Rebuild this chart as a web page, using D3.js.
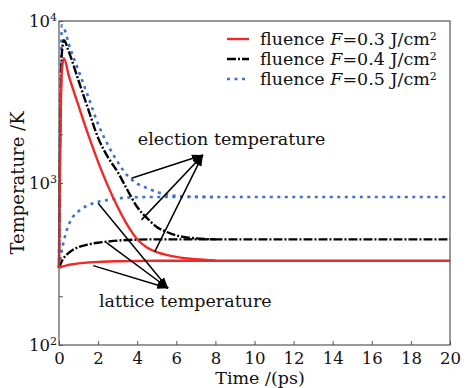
<!DOCTYPE html>
<html>
<head>
<meta charset="utf-8">
<script src="https://cdn.jsdelivr.net/npm/d3@7"></script>
<style>
  body { margin: 0; background: #fff; }
  text { font-family: "DejaVu Serif", serif; fill: #111; }
</style>
</head>
<body>
<svg id="chart" width="469" height="388"></svg>
<script>
// time grid (ps) for electron curves
var tElec = [0, 0.05, 0.1, 0.15, 0.25, 0.5, 1, 1.5, 2, 2.5, 3, 3.5, 4, 4.5, 5, 5.5, 6, 7, 8];
var elec03 = [300, 1300, 3200, 5000, 5900, 4600, 3000, 1980, 1350, 960, 711, 550, 450, 400, 375, 360, 350, 338, 332];
var elec04 = [300, 1600, 4000, 6400, 7600, 6470, 4280, 2840, 1900, 1445, 1170, 905, 711, 608, 535, 499, 475, 455, 449];
var elec05 = [300, 2200, 5500, 9400, 9100, 7210, 4940, 3390, 2310, 1720, 1350, 1110, 990, 930, 880, 851, 832, 822, 820];

// time grid (ps) for lattice curves
var tLatt = [0, 0.1, 0.2, 0.4, 0.7, 1, 1.5, 2, 2.5, 3, 4, 5, 8, 20];
var latt03 = [300, 303, 306, 310, 315, 319, 323, 326, 328, 329, 330, 331, 331, 331];
var latt04 = [300, 320, 338, 362, 386, 402, 418, 428, 435, 441, 447, 449, 449, 449];
var latt05 = [300, 360, 415, 513, 615, 670, 731, 765, 786, 803, 817, 820, 820, 820];

var xTicks = [0, 2, 4, 6, 8, 10, 12, 14, 16, 18, 20];
var yDecades = [100, 1000, 10000];
var yTicks = [100, 200, 1000, 2000, 10000];

var legendLabels = ["0.3", "0.4", "0.5"];

// arrows: [from t, from T, to t, to T]
var elecArrows = [[3.71, 1070, 7.36, 1490], [4.22, 592, 7.36, 1490], [4.9, 377, 7.36, 1490]];
var lattArrows = [[2.0, 750, 5.58, 224], [2.43, 428, 5.58, 224], [1.75, 309, 5.58, 224]];

var W = 469, H = 388;
var margin = {left: 59, top: 21, right: 19, bottom: 43};
var iw = W - margin.left - margin.right, ih = H - margin.top - margin.bottom;

var svg = d3.select("#chart");
var g = svg.append("g").attr("transform", "translate(" + margin.left + "," + margin.top + ")");

var x = d3.scaleLinear().domain([0, 20]).range([0, iw]);
var y = d3.scaleLog().domain([100, 10000]).range([ih, 0]);

var styles = [
  {color: "#f02828", dash: null, w: 2.4},
  {color: "#000000", dash: "9,2,2,2", w: 2.4},
  {color: "#3f6fcf", dash: "3,4.5", w: 2.6}
];

var line = d3.line().x(function(d) { return x(d[0]); }).y(function(d) { return y(d[1]); }).curve(d3.curveMonotoneX);

var elecSeries = [elec03, elec04, elec05];
var lattSeries = [latt03, latt04, latt05];

svg.append("defs").append("marker")
  .attr("id", "arrow").attr("viewBox", "0 0 10 10").attr("refX", 10).attr("refY", 5)
  .attr("markerWidth", 11).attr("markerHeight", 11).attr("markerUnits", "userSpaceOnUse")
  .attr("orient", "auto")
  .append("path").attr("d", "M0,1.5 L10,5 L0,8.5 Z").attr("fill", "#000");

[2, 1, 0].forEach(function(i) {
  var s = styles[i];
  g.append("path").datum(tLatt.map(function(t, k) { return [t, lattSeries[i][k]]; }))
    .attr("d", line).attr("fill", "none").attr("stroke", s.color).attr("stroke-width", s.w)
    .attr("stroke-dasharray", s.dash);
  g.append("path").datum(tElec.map(function(t, k) { return [t, elecSeries[i][k]]; }))
    .attr("d", line).attr("fill", "none").attr("stroke", s.color).attr("stroke-width", s.w)
    .attr("stroke-dasharray", s.dash);
});

// annotation arrows
elecArrows.concat(lattArrows).forEach(function(a) {
  g.append("line").attr("x1", x(a[0])).attr("y1", y(a[1])).attr("x2", x(a[2])).attr("y2", y(a[3]))
    .attr("stroke", "#000").attr("stroke-width", 1.5).attr("marker-end", "url(#arrow)");
});
g.append("text").attr("x", x(4.03)).attr("y", y(1718)).text("election temperature").style("font-size", "17.5px");
g.append("text").attr("x", x(2.04)).attr("y", y(172)).text("lattice temperature").style("font-size", "17.5px");

// frame
g.append("rect").attr("width", iw).attr("height", ih).attr("fill", "none").attr("stroke", "#555").attr("stroke-width", 1.2);

// x axis
var xAxis = g.append("g").attr("transform", "translate(0," + ih + ")")
  .call(d3.axisBottom(x).tickValues(xTicks).tickSize(-4).tickPadding(7).tickFormat(d3.format("d")));
xAxis.select(".domain").remove();
xAxis.selectAll(".tick line").attr("stroke", "#555");
xAxis.selectAll("text").style("font-size", "16.5px").style("font-family", "DejaVu Serif");

// y axis
var yAxis = g.append("g").call(d3.axisLeft(y).tickValues(yTicks).tickSize(-4).tickFormat(""));
yAxis.select(".domain").remove();
yAxis.selectAll(".tick line").attr("stroke", "#555");

yDecades.forEach(function(v) {
  var t = g.append("text").attr("x", -2).attr("y", y(v)).attr("dy", "0.36em")
    .attr("text-anchor", "end").style("font-size", "16.5px");
  t.append("tspan").text("10");
  t.append("tspan").attr("dy", "-0.5em").style("font-size", "11px").text(Math.log10(v));
});

// axis titles
svg.append("text").attr("transform", "translate(24," + (margin.top + ih / 2) + ") rotate(-90)")
  .attr("text-anchor", "middle").style("font-size", "18px").text("Temperature /K");
svg.append("text").attr("x", 260).attr("y", 384)
  .attr("text-anchor", "middle").style("font-size", "17.5px").text("Time /(ps)");

// legend
var leg = g.append("g").attr("transform", "translate(168,18)");
legendLabels.forEach(function(lbl, i) {
  var s = styles[i];
  var ly = i * 20;
  leg.append("line").attr("x1", 0).attr("x2", 22).attr("y1", ly).attr("y2", ly)
    .attr("stroke", s.color).attr("stroke-width", s.w).attr("stroke-dasharray", s.dash);
  var t = leg.append("text").attr("x", 33).attr("y", ly).attr("dy", "0.33em").style("font-size", "17.5px");
  t.append("tspan").text("fluence ");
  t.append("tspan").style("font-style", "italic").text("F");
  t.append("tspan").text("=" + lbl + " J/cm");
  t.append("tspan").attr("dy", "-0.45em").style("font-size", "11px").text("2");
});
</script>
</body>
</html>
